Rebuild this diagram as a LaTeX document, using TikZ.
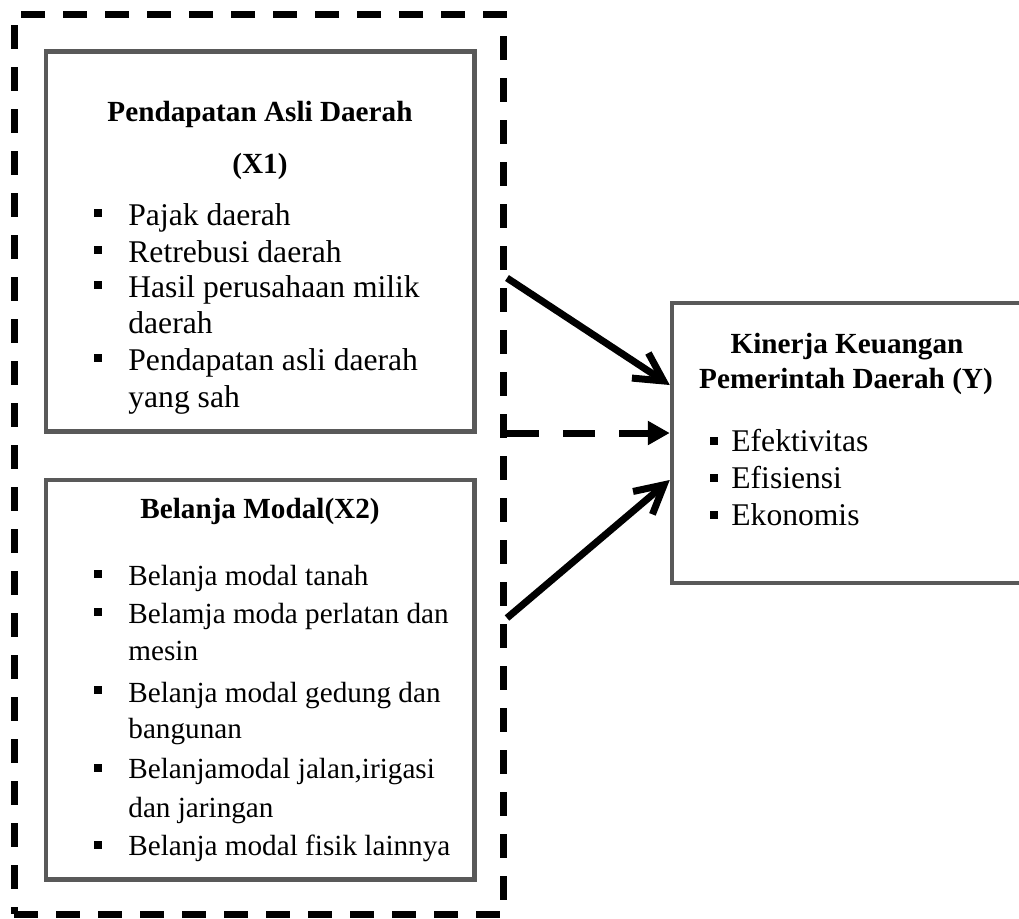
\documentclass[tikz,border=0pt]{standalone}
\usepackage{fontspec}
\setmainfont{Liberation Serif}
\usepackage{tikz}
\usetikzlibrary{arrows.meta}
\definecolor{boxgray}{HTML}{595959}

\begin{document}
\begin{tikzpicture}[x=0.5pt,y=-0.5pt,
  grpbox/.style={draw,line width=3.5pt,dash pattern=on 12pt off 9pt,inner sep=0pt},
  varbox/.style={draw=boxgray,line width=2.25pt,inner sep=0pt},
  ttl/.style={font=\fontsize{14.6}{17}\selectfont\bfseries,anchor=base,inner sep=0pt},
  itma/.style={font=\fontsize{15.8}{19}\selectfont,anchor=base west,inner sep=0pt},
  itmb/.style={font=\fontsize{14.6}{17}\selectfont,anchor=base west,inner sep=0pt},
  bul/.style={fill,minimum size=3.75pt,inner sep=0pt},
  effect/.style={line width=3.5pt,-{Straight Barb[length=14pt,width=15pt]}},
  dasheffect/.style={line width=3.5pt,dash pattern=on 16pt off 12pt,-{Triangle[length=11pt,width=11.5pt]}}]
\useasboundingbox (0,0) rectangle (1019,918);

\node[grpbox,minimum width=244.75pt,minimum height=450pt] (grp) at (258.75,464) {};
\node[varbox,minimum width=214.25pt,minimum height=190pt] (x1) at (260.25,241.5) {};
\node[varbox,minimum width=214.25pt,minimum height=199.75pt] (x2) at (260.25,679.75) {};
\node[varbox,minimum width=181.5pt,minimum height=140pt] (y) at (853.5,443) {};

% X1
\node[ttl] (x1t1) at (260,121) {Pendapatan Asli Daerah};
\node[ttl] (x1t2) at (260,173) {(X1)};
\node[bul] (x1b1) at (98,213) {};
\node[itma] (x1i1) at (128,225) {Pajak daerah};
\node[bul] (x1b2) at (98,250) {};
\node[itma] (x1i2) at (128,262) {Retrebusi daerah};
\node[bul] (x1b3) at (98,285) {};
\node[itma] (x1i3) at (128,297) {Hasil perusahaan milik};
\node[itma] (x1i3b) at (128,333) {daerah};
\node[bul] (x1b4) at (98,358) {};
\node[itma] (x1i4) at (128,370) {Pendapatan asli daerah};
\node[itma] (x1i4b) at (128,407) {yang sah};

% X2
\node[ttl] (x2t) at (260,518) {Belanja Modal(X2)};
\node[bul] (x2b1) at (98,574) {};
\node[itmb] (x2i1) at (128,585) {Belanja modal tanah};
\node[bul] (x2b2) at (98,612) {};
\node[itmb] (x2i2) at (128,623) {Belamja moda perlatan dan};
\node[itmb] (x2i2b) at (128,660) {mesin};
\node[bul] (x2b3) at (98,690) {};
\node[itmb] (x2i3) at (128,702) {Belanja modal gedung dan};
\node[itmb] (x2i3b) at (128,738) {bangunan};
\node[bul] (x2b4) at (98,768) {};
\node[itmb] (x2i4) at (128,778) {Belanjamodal jalan,irigasi};
\node[itmb] (x2i4b) at (128,817) {dan jaringan};
\node[bul] (x2b5) at (98,845) {};
\node[itmb] (x2i5) at (128,855) {Belanja modal fisik lainnya};

% Y
\node[ttl] (yt1) at (847,353) {Kinerja Keuangan};
\node[ttl] (yt2) at (846,388) {Pemerintah Daerah (Y)};
\node[bul] (yb1) at (714,441) {};
\node[itma] (yi1) at (731,451) {Efektivitas};
\node[bul] (yb2) at (714,478) {};
\node[itma] (yi2) at (731,488) {Efisiensi};
\node[bul] (yb3) at (714,515) {};
\node[itma] (yi3) at (731,525) {Ekonomis};

\draw[effect] ([yshift=93pt]grp.east) -- ([yshift=29pt]y.west);
\draw[dasheffect] ([yshift=15.5pt]grp.east) -- ([yshift=5pt]y.west);
\draw[effect] ([yshift=-77pt]grp.east) -- ([yshift=-18.5pt]y.west);

\end{tikzpicture}
\end{document}
